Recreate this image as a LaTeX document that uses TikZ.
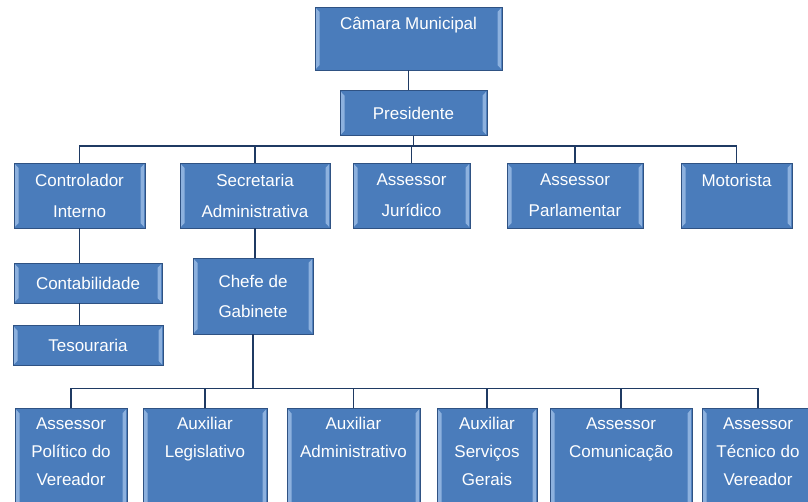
\documentclass[tikz,border=0pt]{standalone}
\usepackage{fontspec}
\setmainfont{Liberation Sans}
\usetikzlibrary{positioning}

\definecolor{boxblue}{HTML}{4A7CBB}
\definecolor{boxedge}{HTML}{2F5283}
\definecolor{boxlight}{HTML}{8DB1DE}
\definecolor{linkblue}{HTML}{1F3A63}

\begin{document}
\begin{tikzpicture}[x=1pt, y=-1pt,
    box/.style={rectangle, draw=boxedge, line width=0.7pt, fill=boxblue, text=white,
        align=center, inner sep=0pt, font=\fontsize{17}{31}\selectfont,
        path picture={
            \fill[boxlight] ([xshift=0.8pt, yshift=-1pt]path picture bounding box.north west)
                -- ([xshift=4.5pt, yshift=-5pt]path picture bounding box.north west)
                -- ([xshift=4.5pt, yshift=5pt]path picture bounding box.south west)
                -- ([xshift=0.8pt, yshift=1pt]path picture bounding box.south west) -- cycle;
            \fill[boxlight] ([xshift=-0.8pt, yshift=-1pt]path picture bounding box.north east)
                -- ([xshift=-4.5pt, yshift=-5pt]path picture bounding box.north east)
                -- ([xshift=-4.5pt, yshift=5pt]path picture bounding box.south east)
                -- ([xshift=-0.8pt, yshift=1pt]path picture bounding box.south east) -- cycle;
        }},
    leaf/.style={box, anchor=north, minimum height=104pt, text depth=18pt,
        font=\fontsize{17}{28}\selectfont},
    link/.style={draw=linkblue, line width=1.6pt}]
    \useasboundingbox (0,0) rectangle (808,501);

    % Nodes
    \node (camara) [box, minimum width=187pt, minimum height=63pt] at (408.5,38.5) {Câmara Municipal\\ \mbox{}};
    \node (presidente) [box, minimum width=147pt, minimum height=45pt, below=20pt of camara, xshift=5pt] {Presidente};

    \node (controlador) [box, minimum width=131pt, minimum height=65pt] at (79.5,195.5) {Controlador\\Interno};
    \node (secretaria) [box, minimum width=150pt, minimum height=65pt] at (255,195.5) {Secretaria\\Administrativa};
    \node (juridico) [box, minimum width=117pt, minimum height=65pt] at (411.5,195.5) {Assessor\\Jurídico};
    \node (parlamentar) [box, minimum width=136pt, minimum height=65pt] at (575,195.5) {Assessor\\Parlamentar};
    \node (motorista) [box, minimum width=111pt, minimum height=65pt] at (736.5,195.5) {Motorista\\ \mbox{}};

    \node (contab) [box, minimum width=148pt, minimum height=40pt] at (88,283) {Contabilidade};
    \node (tesouraria) [box, minimum width=150pt, minimum height=40pt, below=22pt of contab] {Tesouraria};
    \node (chefe) [box, minimum width=120pt, minimum height=76pt, font=\fontsize{17}{30}\selectfont] at (253,296) {Chefe de\\Gabinete};

    \node (politico) [leaf, minimum width=112pt] at (71,408) {Assessor\\Político do\\Vereador};
    \node (legislativo) [leaf, minimum width=124pt] at (205,408) {Auxiliar\\Legislativo\\ \mbox{}};
    \node (administrativo) [leaf, minimum width=133pt] at (353.5,408) {Auxiliar\\Administrativo\\ \mbox{}};
    \node (servicos) [leaf, minimum width=100pt] at (487,408) {Auxiliar\\Serviços\\Gerais};
    \node (comunicacao) [leaf, minimum width=142pt] at (621,408) {Assessor\\Comunicação\\ \mbox{}};
    \node (tecnico) [leaf, minimum width=112pt] at (758,408) {Assessor\\Técnico do\\Vereador};

    % Lines
    \draw[link] (camara.south) -- (camara.south |- presidente.north);
    \foreach \n in {controlador, secretaria, juridico, parlamentar, motorista}
        \draw[link] (presidente.south) -- ++(0,10) -| (\n.north);
    \draw[link] (controlador.south) -- (controlador.south |- contab.north);
    \draw[link] (controlador.south |- contab.south) -- (controlador.south |- tesouraria.north);
    \draw[link] (secretaria.south) -- (secretaria.south |- chefe.north);
    \foreach \n in {politico, legislativo, administrativo, servicos, comunicacao, tecnico}
        \draw[link] (chefe.south) -- ++(0,54) -| (\n.north);
\end{tikzpicture}
\end{document}
